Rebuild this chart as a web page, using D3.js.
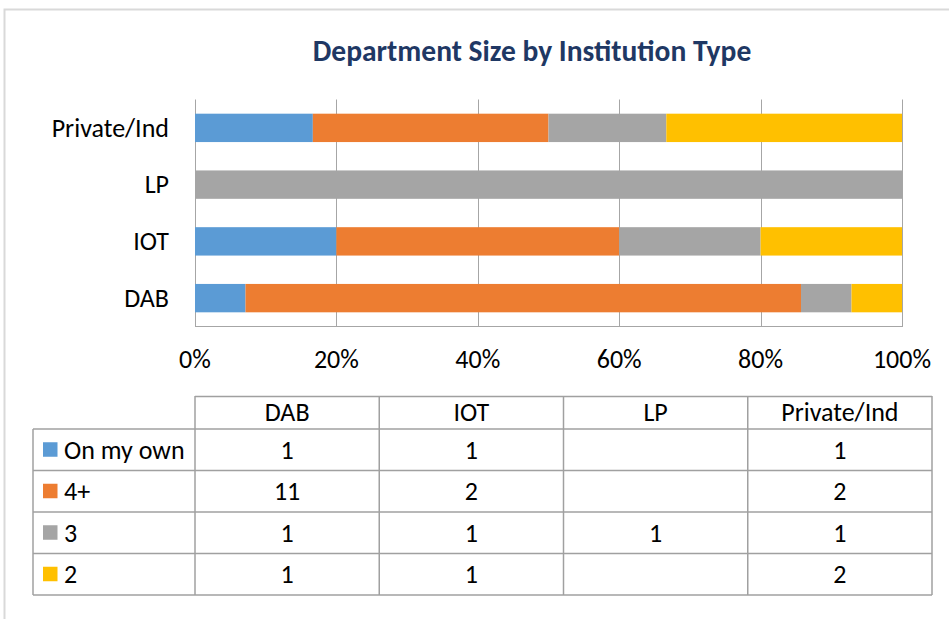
<!DOCTYPE html>
<html>
<head>
<meta charset="utf-8">
<script src="https://cdn.jsdelivr.net/npm/d3@7"></script>
<style>
  html, body { margin: 0; padding: 0; background: #fff; }
  svg text { font-family: Carlito, Calibri, Lato, sans-serif; fill: #000; }
</style>
</head>
<body>
<svg id="chart" width="949" height="619"></svg>
<script>
// ---- data ----
const categories = ["DAB", "IOT", "LP", "Private/Ind"];          // table column order
const axisOrder = ["Private/Ind", "LP", "IOT", "DAB"];            // top-to-bottom on chart
const seriesNames = ["On my own", "4+", "3", "2"];
const onMyOwn = [1, 1, null, 1];
const fourPlus = [11, 2, null, 2];
const three = [1, 1, 1, 1];
const two = [1, 1, null, 2];
const seriesValues = [onMyOwn, fourPlus, three, two];
const seriesColors = ["#5B9BD5", "#ED7D31", "#A5A5A5", "#FFC000"];
const xTicks = [0, 0.2, 0.4, 0.6, 0.8, 1.0];
const title = "Department Size by Institution Type";

// ---- layout ----
const svg = d3.select("#chart");
const plot = { left: 195, right: 902, top: 99.5, bottom: 326.5 };
const gridColor = "#A6A6A6";
const fs = "26px";

// outer chart border
svg.append("rect")
  .attr("x", 4.5).attr("y", 9.5).attr("width", 970).attr("height", 640)
  .attr("fill", "none").attr("stroke", "#D9D9D9").attr("stroke-width", 2);

// title
svg.append("text")
  .attr("x", 532).attr("y", 61)
  .attr("text-anchor", "middle")
  .style("font-size", "29.5px").style("font-weight", "bold")
  .style("fill", "#1F3864")
  .text(title);

// build stacked data (percent)
const rows = categories.map((c, i) => {
  const o = { cat: c };
  seriesNames.forEach((s, j) => { o[s] = seriesValues[j][i] || 0; });
  return o;
});
const stack = d3.stack().keys(seriesNames).offset(d3.stackOffsetExpand);
const stacked = stack(rows);

const x = d3.scaleLinear().domain([0, 1]).range([plot.left, plot.right]);
const y = d3.scaleBand().domain(axisOrder).range([plot.top, plot.bottom])
  .paddingInner(0.5).paddingOuter(0.25);

// gridlines
svg.append("g").selectAll("line").data(xTicks).join("line")
  .attr("x1", d => Math.round(x(d)) + 0.5).attr("x2", d => Math.round(x(d)) + 0.5)
  .attr("y1", plot.top).attr("y2", plot.bottom)
  .attr("stroke", gridColor).attr("stroke-width", 1);

// bottom axis line
svg.append("line")
  .attr("x1", plot.left).attr("x2", plot.right + 1)
  .attr("y1", plot.bottom).attr("y2", plot.bottom)
  .attr("stroke", gridColor).attr("stroke-width", 1);

// bars
svg.append("g").selectAll("g").data(stacked).join("g")
  .attr("fill", (d, i) => seriesColors[i])
  .selectAll("rect").data(d => d).join("rect")
  .attr("x", d => x(d[0]))
  .attr("width", d => x(d[1]) - x(d[0]))
  .attr("y", d => y(d.data.cat))
  .attr("height", y.bandwidth());

// x tick labels
svg.append("g").selectAll("text").data(xTicks).join("text")
  .attr("x", d => x(d)).attr("y", 368)
  .attr("text-anchor", "middle")
  .style("font-size", fs)
  .text(d => d3.format(".0%")(d));

// category labels
svg.append("g").selectAll("text").data(axisOrder).join("text")
  .attr("x", 169).attr("y", d => y(d) + y.bandwidth() / 2)
  .attr("dy", "0.34em")
  .attr("text-anchor", "end")
  .style("font-size", fs)
  .text(d => d);

// ---- data table ----
const tbl = { left: 33, colLeft: 195, right: 932, top: 396, headBottom: 429, bottom: 595 };
const colX = d3.scaleBand().domain(categories).range([tbl.colLeft, tbl.right]);
const rowY = d3.scaleBand().domain(seriesNames).range([tbl.headBottom, tbl.bottom]);
const tableColor = "#A0A0A0";
const tg = svg.append("g");

// horizontal lines
tg.append("line").attr("x1", tbl.colLeft).attr("x2", tbl.right)
  .attr("y1", tbl.top + 0.5).attr("y2", tbl.top + 0.5)
  .attr("stroke", tableColor).attr("stroke-width", 1.5);
tg.selectAll("line.h").data(seriesNames.concat(["__end"])).join("line")
  .attr("class", "h")
  .attr("x1", tbl.left).attr("x2", tbl.right)
  .attr("y1", (d, i) => i < seriesNames.length ? rowY(d) : tbl.bottom)
  .attr("y2", (d, i) => i < seriesNames.length ? rowY(d) : tbl.bottom)
  .attr("stroke", tableColor).attr("stroke-width", 1.5);

// vertical lines
tg.append("line").attr("x1", tbl.left).attr("x2", tbl.left)
  .attr("y1", tbl.headBottom).attr("y2", tbl.bottom)
  .attr("stroke", tableColor).attr("stroke-width", 1.5);
tg.selectAll("line.v").data(categories.concat(["__end"])).join("line")
  .attr("class", "v")
  .attr("x1", (d, i) => i < categories.length ? colX(d) : tbl.right)
  .attr("x2", (d, i) => i < categories.length ? colX(d) : tbl.right)
  .attr("y1", tbl.top).attr("y2", tbl.bottom)
  .attr("stroke", tableColor).attr("stroke-width", 1.5);

// header text
tg.selectAll("text.hd").data(categories).join("text")
  .attr("class", "hd")
  .attr("x", d => colX(d) + colX.bandwidth() / 2)
  .attr("y", (tbl.top + tbl.headBottom) / 2).attr("dy", "0.34em")
  .attr("text-anchor", "middle")
  .style("font-size", fs)
  .text(d => d);

// legend keys + series names
seriesNames.forEach((s, j) => {
  const cy = rowY(s) + rowY.bandwidth() / 2;
  tg.append("rect").attr("x", 43).attr("y", cy - 7.5)
    .attr("width", 14.5).attr("height", 14.5).attr("fill", seriesColors[j]);
  tg.append("text").attr("x", 64).attr("y", cy).attr("dy", "0.34em")
    .style("font-size", fs).text(s);
  categories.forEach((c, i) => {
    const v = seriesValues[j][i];
    if (v == null) return;
    tg.append("text")
      .attr("x", colX(c) + colX.bandwidth() / 2).attr("y", cy).attr("dy", "0.34em")
      .attr("text-anchor", "middle")
      .style("font-size", fs)
      .text(v);
  });
});
</script>
</body>
</html>
